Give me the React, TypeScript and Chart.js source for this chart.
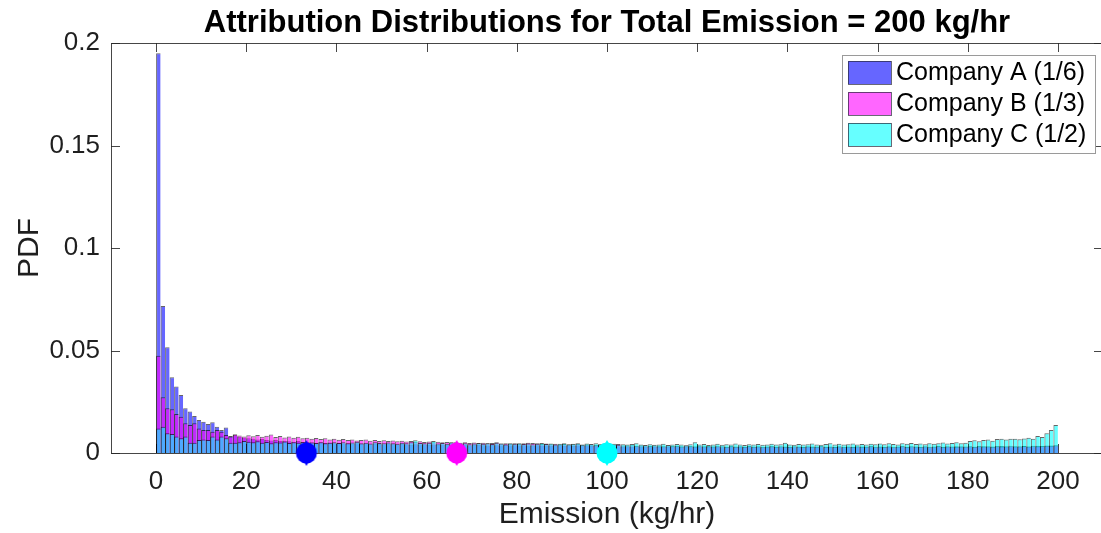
import React, { useEffect, useRef } from "react";
import { Chart, registerables } from "chart.js";

Chart.register(...registerables);

// ---------- data ----------
const chartTitle = "Attribution Distributions for Total Emission = 200 kg/hr";
const xAxisTitle = "Emission (kg/hr)";
const yAxisTitle = "PDF";

const seriesLabels = ["Company A (1/6)", "Company B (1/3)", "Company C (1/2)"];

// histogram bins: width 1 kg/hr from 0 to 200 (bin centres)
const binCenters: number[] = Array.from({ length: 200 }, (_, i) => i + 0.5);

const companyA: number[] = [
  0.195, 0.0717, 0.0516, 0.0369, 0.0324, 0.0283, 0.0218, 0.0202, 0.0180, 0.0161, 0.0153, 0.0141, 0.0150, 0.0128, 0.0112, 0.0125, 0.0083, 0.0088, 0.0079, 0.0074,
  0.0072, 0.0070, 0.0066, 0.0068, 0.0063, 0.0061, 0.0064, 0.0058, 0.0060, 0.0057, 0.0055, 0.0058, 0.0053, 0.0054, 0.0052, 0.0050, 0.0053, 0.0049, 0.0051, 0.0048,
  0.0049, 0.0046, 0.0048, 0.0045, 0.0047, 0.0044, 0.0046, 0.0043, 0.0045, 0.0044, 0.0042, 0.0045, 0.0043, 0.0041, 0.0044, 0.0042, 0.0040, 0.0043, 0.0041, 0.0042,
  0.0040, 0.0042, 0.0039, 0.0041, 0.0040, 0.0038, 0.0041, 0.0039, 0.0040, 0.0037, 0.0039, 0.0040, 0.0038, 0.0037, 0.0039, 0.0038, 0.0036, 0.0039, 0.0037, 0.0038,
  0.0036, 0.0038, 0.0037, 0.0035, 0.0038, 0.0036, 0.0037, 0.0035, 0.0036, 0.0038, 0.0035, 0.0036, 0.0034, 0.0037, 0.0035, 0.0036, 0.0034, 0.0035, 0.0037, 0.0034,
  0.0032, 0.0030, 0.0033, 0.0031, 0.0032, 0.0030, 0.0033, 0.0031, 0.0030, 0.0032, 0.0031, 0.0029, 0.0032, 0.0030, 0.0031, 0.0033, 0.0029, 0.0031, 0.0030, 0.0032,
  0.0030, 0.0031, 0.0029, 0.0032, 0.0030, 0.0028, 0.0031, 0.0030, 0.0029, 0.0031, 0.0030, 0.0032, 0.0029, 0.0030, 0.0028, 0.0031, 0.0029, 0.0030, 0.0031, 0.0029,
  0.0030, 0.0028, 0.0031, 0.0029, 0.0030, 0.0032, 0.0029, 0.0028, 0.0030, 0.0031, 0.0029, 0.0030, 0.0028, 0.0031, 0.0029, 0.0030, 0.0032, 0.0029, 0.0030, 0.0028,
  0.0031, 0.0029, 0.0030, 0.0028, 0.0030, 0.0031, 0.0029, 0.0032, 0.0030, 0.0029, 0.0031, 0.0028, 0.0030, 0.0032, 0.0029, 0.0031, 0.0030, 0.0033, 0.0029, 0.0031,
  0.0032, 0.0030, 0.0031, 0.0033, 0.0030, 0.0032, 0.0031, 0.0034, 0.0031, 0.0032, 0.0033, 0.0031, 0.0034, 0.0032, 0.0033, 0.0035, 0.0033, 0.0034, 0.0036, 0.0037,
];

const companyB: number[] = [
  0.0475, 0.0272, 0.0218, 0.0213, 0.0190, 0.0177, 0.0145, 0.0137, 0.0145, 0.0120, 0.0112, 0.0112, 0.0104, 0.0112, 0.0104, 0.0088, 0.0080, 0.0091, 0.0085, 0.0080,
  0.0086, 0.0082, 0.0088, 0.0079, 0.0084, 0.0090, 0.0078, 0.0083, 0.0076, 0.0081, 0.0074, 0.0079, 0.0072, 0.0075, 0.0070, 0.0073, 0.0068, 0.0072, 0.0066, 0.0069,
  0.0065, 0.0068, 0.0063, 0.0066, 0.0061, 0.0064, 0.0066, 0.0060, 0.0063, 0.0059, 0.0062, 0.0058, 0.0061, 0.0057, 0.0060, 0.0056, 0.0059, 0.0055, 0.0057, 0.0054,
  0.0056, 0.0053, 0.0055, 0.0052, 0.0054, 0.0051, 0.0053, 0.0050, 0.0052, 0.0049, 0.0051, 0.0048, 0.0050, 0.0047, 0.0049, 0.0052, 0.0046, 0.0048, 0.0045, 0.0047,
  0.0045, 0.0047, 0.0050, 0.0049, 0.0048, 0.0044, 0.0046, 0.0043, 0.0045, 0.0042, 0.0044, 0.0041, 0.0043, 0.0045, 0.0040, 0.0042, 0.0041, 0.0039, 0.0042, 0.0040,
  0.0038, 0.0040, 0.0044, 0.0037, 0.0036, 0.0038, 0.0035, 0.0037, 0.0036, 0.0034, 0.0037, 0.0035, 0.0033, 0.0036, 0.0034, 0.0035, 0.0033, 0.0036, 0.0034, 0.0032,
  0.0035, 0.0033, 0.0034, 0.0032, 0.0035, 0.0033, 0.0031, 0.0034, 0.0032, 0.0033, 0.0031, 0.0034, 0.0032, 0.0033, 0.0031, 0.0032, 0.0034, 0.0031, 0.0033, 0.0032,
  0.0031, 0.0033, 0.0032, 0.0030, 0.0033, 0.0031, 0.0032, 0.0034, 0.0031, 0.0032, 0.0030, 0.0033, 0.0031, 0.0032, 0.0030, 0.0033, 0.0031, 0.0032, 0.0034, 0.0031,
  0.0032, 0.0030, 0.0033, 0.0031, 0.0032, 0.0034, 0.0031, 0.0033, 0.0032, 0.0030, 0.0033, 0.0031, 0.0032, 0.0034, 0.0031, 0.0033, 0.0032, 0.0031, 0.0033, 0.0032,
  0.0033, 0.0031, 0.0034, 0.0032, 0.0033, 0.0031, 0.0034, 0.0032, 0.0033, 0.0035, 0.0032, 0.0033, 0.0034, 0.0032, 0.0035, 0.0033, 0.0034, 0.0036, 0.0035, 0.0038,
];

const companyC: number[] = [
  0.0120, 0.0128, 0.0096, 0.0093, 0.0080, 0.0072, 0.0080, 0.0050, 0.0050, 0.0063, 0.0066, 0.0063, 0.0080, 0.0066, 0.0080, 0.0072, 0.0050, 0.0050, 0.0052, 0.0058,
  0.0055, 0.0052, 0.0057, 0.0050, 0.0054, 0.0048, 0.0053, 0.0051, 0.0056, 0.0049, 0.0052, 0.0050, 0.0054, 0.0047, 0.0051, 0.0049, 0.0053, 0.0048, 0.0050, 0.0052,
  0.0049, 0.0053, 0.0047, 0.0051, 0.0055, 0.0048, 0.0050, 0.0046, 0.0052, 0.0049, 0.0047, 0.0051, 0.0048, 0.0045, 0.0050, 0.0047, 0.0052, 0.0062, 0.0049, 0.0047,
  0.0050, 0.0058, 0.0046, 0.0049, 0.0045, 0.0052, 0.0047, 0.0044, 0.0048, 0.0043, 0.0046, 0.0049, 0.0045, 0.0047, 0.0044, 0.0050, 0.0046, 0.0043, 0.0047, 0.0045,
  0.0048, 0.0044, 0.0046, 0.0043, 0.0045, 0.0049, 0.0044, 0.0046, 0.0042, 0.0045, 0.0047, 0.0043, 0.0045, 0.0048, 0.0042, 0.0046, 0.0044, 0.0047, 0.0043, 0.0045,
  0.0042, 0.0045, 0.0040, 0.0043, 0.0041, 0.0044, 0.0047, 0.0041, 0.0039, 0.0043, 0.0040, 0.0042, 0.0045, 0.0039, 0.0041, 0.0044, 0.0042, 0.0038, 0.0043, 0.0052,
  0.0041, 0.0044, 0.0039, 0.0042, 0.0045, 0.0040, 0.0043, 0.0041, 0.0046, 0.0042, 0.0039, 0.0043, 0.0041, 0.0044, 0.0040, 0.0042, 0.0045, 0.0041, 0.0043, 0.0050,
  0.0042, 0.0040, 0.0044, 0.0041, 0.0043, 0.0046, 0.0042, 0.0040, 0.0044, 0.0047, 0.0042, 0.0045, 0.0041, 0.0043, 0.0046, 0.0042, 0.0044, 0.0041, 0.0045, 0.0043,
  0.0046, 0.0043, 0.0048, 0.0044, 0.0042, 0.0047, 0.0045, 0.0049, 0.0044, 0.0046, 0.0043, 0.0048, 0.0045, 0.0047, 0.0051, 0.0046, 0.0049, 0.0053, 0.0047, 0.0050,
  0.0058, 0.0062, 0.0057, 0.0063, 0.0066, 0.0060, 0.0068, 0.0070, 0.0066, 0.0069, 0.0069, 0.0067, 0.0071, 0.0074, 0.0070, 0.0083, 0.0078, 0.0096, 0.0112, 0.0137,
];

// expected attribution (share x 200 kg/hr), marked on the x axis
const expectedEmission: number[] = [33.33, 66.67, 100];

const xTicks: number[] = [0, 20, 40, 60, 80, 100, 120, 140, 160, 180, 200];
const yTicks: number[] = [0, 0.05, 0.1, 0.15, 0.2];
const yTickLabels: string[] = ["0", "0.05", "0.1", "0.15", "0.2"];

// ---------- styles ----------
const FONT = "'Liberation Sans', Arial, Helvetica, sans-serif";
const TEXT = "#1f1f1f";
const AXIS = "rgba(38,38,38,0.85)";
const fills = ["rgba(0,0,255,0.6)", "rgba(255,0,255,0.6)", "rgba(0,255,255,0.6)"];
const markerColors = ["#0000ff", "#ff00ff", "#00ffff"];
const EDGE = "rgba(0,0,0,0.6)";

function makeMarker(color: string): HTMLCanvasElement {
  const c = document.createElement("canvas");
  c.width = 24;
  c.height = 28;
  const g = c.getContext("2d")!;
  g.fillStyle = color;
  g.beginPath();
  g.arc(12, 14, 10.5, 0, Math.PI * 2);
  g.fill();
  g.beginPath();
  g.moveTo(12, 1);
  g.lineTo(19.5, 14);
  g.lineTo(12, 27);
  g.lineTo(4.5, 14);
  g.closePath();
  g.fill();
  return c;
}

const framePlugin = {
  id: "matlabFrame",
  beforeDraw(chart: any) {
    const { ctx, width, height } = chart;
    ctx.save();
    ctx.fillStyle = "#ffffff";
    ctx.fillRect(0, 0, width, height);
    ctx.restore();
  },
  beforeDatasetsDraw(chart: any) {
    const { ctx, chartArea } = chart;
    const { left, right, top, bottom } = chartArea;
    const xs = chart.scales.x;
    const ys = chart.scales.y;
    const TL = 9;
    ctx.save();
    ctx.strokeStyle = AXIS;
    ctx.lineWidth = 1;
    ctx.beginPath();
    ctx.rect(Math.round(left) + 0.5, Math.round(top) + 0.5, Math.round(right - left), Math.round(bottom - top));
    for (const v of xTicks) {
      const px = Math.round(xs.getPixelForValue(v)) + 0.5;
      ctx.moveTo(px, bottom);
      ctx.lineTo(px, bottom - TL);
      ctx.moveTo(px, top);
      ctx.lineTo(px, top + TL);
    }
    for (const v of yTicks) {
      const py = Math.round(ys.getPixelForValue(v)) + 0.5;
      ctx.moveTo(left, py);
      ctx.lineTo(left + TL, py);
      ctx.moveTo(right, py);
      ctx.lineTo(right - TL, py);
    }
    ctx.stroke();
    ctx.restore();
  },
  afterDraw(chart: any) {
    const { ctx, chartArea } = chart;
    ctx.save();
    // title
    ctx.fillStyle = "#000";
    ctx.font = `bold 31px ${FONT}`;
    ctx.textAlign = "center";
    ctx.textBaseline = "alphabetic";
    ctx.fillText(chartTitle, (chartArea.left + chartArea.right) / 2, 32);

    // legend
    const bx = 842, by = 55, bw = 253, bh = 98;
    ctx.fillStyle = "#fff";
    ctx.fillRect(bx, by, bw, bh);
    ctx.strokeStyle = "#9a9a9a";
    ctx.lineWidth = 1;
    ctx.strokeRect(bx + 0.5, by + 0.5, bw, bh);
    ctx.font = `25px ${FONT}`;
    ctx.textAlign = "left";
    ctx.textBaseline = "middle";
    seriesLabels.forEach((lab, i) => {
      const sy = by + 6 + i * 31;
      ctx.fillStyle = fills[i];
      ctx.fillRect(848, sy, 43, 23);
      ctx.strokeStyle = "rgba(40,40,60,0.7)";
      ctx.strokeRect(848.5, sy + 0.5, 43, 23);
      ctx.fillStyle = "#000";
      ctx.fillText(lab, 896, sy + 12.5);
    });
    ctx.restore();
  },
};

function barDataset(label: string, values: number[], fill: string, order: number) {
  return {
    type: "bar" as const,
    label,
    data: binCenters.map((x, i) => ({ x, y: values[i] })),
    backgroundColor: fill,
    borderColor: EDGE,
    borderWidth: { top: 1, left: 1, right: 0, bottom: 0 },
    borderSkipped: false,
    inflateAmount: 0,
    barPercentage: 1,
    categoryPercentage: 1,
    grouped: false,
    order,
  };
}

export default function App() {
  const ref = useRef<HTMLCanvasElement | null>(null);

  useEffect(() => {
    if (!ref.current) return;
    const markers = markerColors.map(makeMarker);
    const chart = new Chart(ref.current, {
      type: "bar",
      data: {
        datasets: [
          barDataset(seriesLabels[0], companyA, fills[0], 3),
          barDataset(seriesLabels[1], companyB, fills[1], 2),
          barDataset(seriesLabels[2], companyC, fills[2], 1),
          {
            type: "scatter" as const,
            label: "expected",
            data: expectedEmission.map((x) => ({ x, y: 0 })),
            pointStyle: markers as any,
            pointRadius: 11,
            clip: false as any,
            order: 0,
          } as any,
        ],
      },
      options: {
        responsive: false,
        animation: false,
        events: [],
        layout: { autoPadding: false, padding: { top: 43, right: 7, left: 0, bottom: 0 } },
        plugins: { legend: { display: false }, tooltip: { enabled: false }, title: { display: false } },
        scales: {
          x: {
            type: "linear",
            min: -10,
            max: 210,
            offset: false,
            grid: { display: false, drawTicks: false },
            border: { display: false },
            afterBuildTicks: (s: any) => {
              s.ticks = xTicks.map((v) => ({ value: v }));
            },
            afterFit: (s: any) => {
              s.height = 80;
              s.paddingLeft = 0;
              s.paddingRight = 0;
            },
            ticks: {
              autoSkip: false,
              maxRotation: 0,
              padding: 13,
              color: TEXT,
              font: { family: FONT, size: 26 },
              callback: (v: any) => String(v),
            },
            title: {
              display: true,
              text: xAxisTitle,
              color: TEXT,
              font: { family: FONT, size: 30 },
              padding: { top: 0, bottom: 0 },
            },
          },
          y: {
            type: "linear",
            min: 0,
            max: 0.2,
            grid: { display: false, drawTicks: false },
            border: { display: false },
            afterBuildTicks: (s: any) => {
              s.ticks = yTicks.map((v) => ({ value: v }));
            },
            afterFit: (s: any) => {
              s.width = 111;
              s.paddingTop = 0;
              s.paddingBottom = 0;
            },
            ticks: {
              padding: 11,
              color: TEXT,
              font: { family: FONT, size: 26 },
              callback: (_v: any, i: number) => yTickLabels[i],
            },
            title: {
              display: true,
              text: yAxisTitle,
              color: TEXT,
              font: { family: FONT, size: 30 },
              padding: { top: 12, bottom: 0 },
            },
          },
        },
      },
      plugins: [framePlugin],
    } as any);
    return () => chart.destroy();
  }, []);

  return (
    <div
      style={{
        position: "absolute",
        left: 0,
        top: 0,
        width: 1101,
        height: 533,
        overflow: "hidden",
        background: "#fff",
      }}
    >
      <canvas ref={ref} width={1110} height={533} style={{ width: 1110, height: 533, display: "block" }} />
    </div>
  );
}
